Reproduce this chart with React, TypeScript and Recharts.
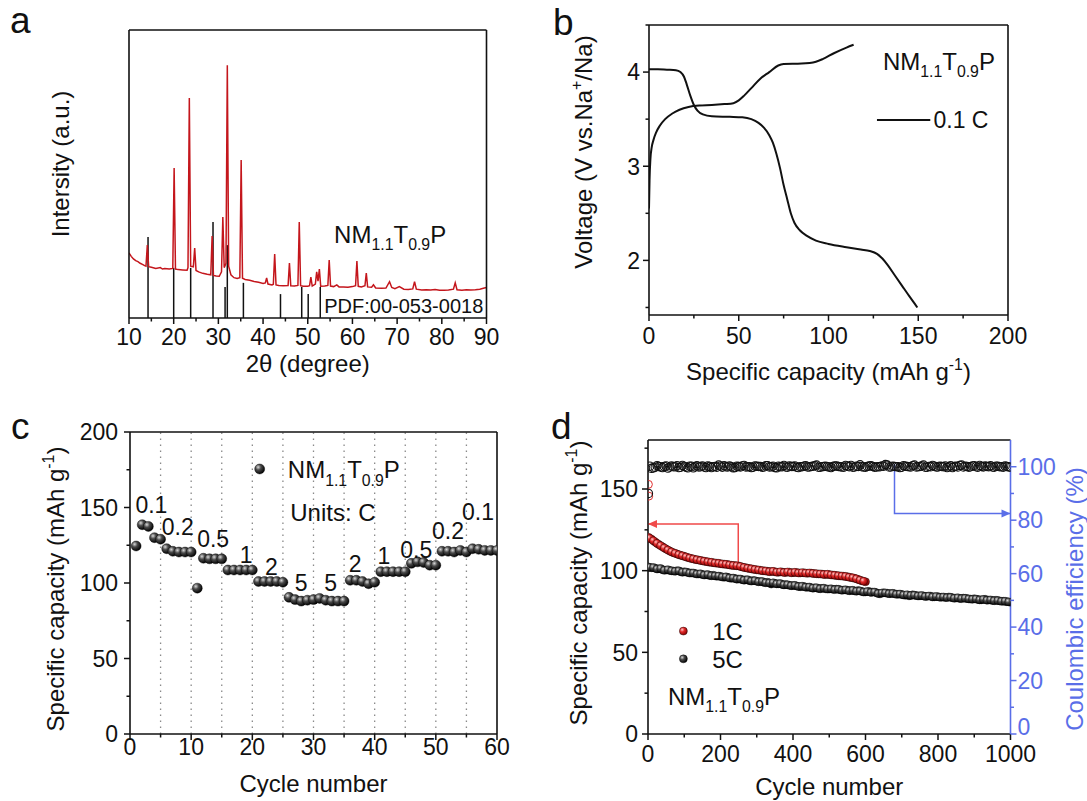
import React from 'react'
import { ComposedChart, Line, Scatter, XAxis, YAxis, ReferenceLine } from 'recharts'

const FONT = '"Liberation Sans", Arial, Helvetica, sans-serif'
const INK = '#111111'
const XRD_RED = '#c4161c'
const BLUE = '#5a6ee8'
const ARROW_RED = '#f04a4a'
const TICK_FS = 23
const TITLE_FS = 24

// (a) XRD pattern, 2theta (deg) and intensity (a.u., 0..1000 of plot height)
const xrdTheta = [
  10.0, 10.5, 11.0, 11.5, 12.0, 12.5, 13.0, 13.5, 13.8, 14.1,
  14.4, 15.0, 16.0, 17.0, 17.5, 18.0, 19.0, 19.8, 20.1, 20.4,
  21.0, 22.0, 23.0, 23.2, 23.5, 23.8, 24.4, 24.7, 25.0, 25.6,
  26.5, 27.5, 28.3, 28.6, 28.9, 29.5, 30.2, 30.7, 31.0, 31.3,
  31.7, 32.0, 32.3, 32.8, 33.5, 34.2, 34.8, 35.1, 35.4, 36.0,
  37.0, 38.0, 39.0, 40.0, 40.5, 40.8, 41.1, 42.0, 42.3, 42.6,
  42.9, 43.5, 44.5, 45.6, 45.9, 46.2, 47.0, 47.8, 48.1, 48.4,
  49.0, 50.0, 50.4, 50.7, 51.0, 51.7, 52.0, 52.3, 52.6, 52.9,
  53.8, 54.5, 54.8, 55.1, 55.8, 56.5, 57.0, 58.0, 59.0, 60.0,
  60.7, 61.0, 61.3, 62.0, 62.8, 63.1, 63.4, 64.3, 64.7, 65.2,
  66.5, 67.5, 68.3, 68.8, 69.5, 70.5, 71.5, 72.5, 73.5, 73.9,
  74.3, 75.5, 76.5, 77.5, 78.5, 79.5, 80.5, 81.5, 82.6, 83.0,
  83.4, 84.5, 85.5, 86.5, 87.5, 88.5, 89.5, 90.0,
]
const xrdIntensity = [
  226, 214, 205, 199, 196, 190, 186, 182, 180, 253,
  178, 176, 172, 175, 170, 172, 170, 172, 521, 170,
  168, 167, 166, 175, 764, 180, 178, 243, 165, 160,
  155, 152, 150, 285, 148, 146, 145, 160, 351, 175,
  190, 878, 180, 150, 140, 137, 140, 549, 138, 134,
  131, 127, 124, 120, 122, 139, 118, 115, 117, 222,
  115, 113, 112, 113, 191, 112, 111, 113, 333, 112,
  110, 110, 112, 142, 111, 118, 160, 128, 170, 110,
  111, 113, 201, 111, 109, 115, 108, 108, 107, 109,
  112, 198, 110, 108, 112, 156, 108, 107, 115, 104,
  103, 104, 126, 106, 102, 109, 100, 99, 101, 126,
  100, 97, 98, 97, 99, 96, 96, 97, 100, 122,
  98, 96, 98, 97, 98, 100, 104, 106,
]
const pdfTheta = [14.26, 20.0, 23.8, 28.8, 31.5, 32.0, 35.6, 43.9, 48.65, 50.1, 52.8]
const pdfIntensity = [281, 174, 174, 333, 108, 253, 122, 83, 108, 83, 108]
const xrdTicks = [10, 15, 20, 25, 30, 35, 40, 45, 50, 55, 60, 65, 70, 75, 80, 85, 90]
const xrdMajor = [10, 20, 30, 40, 50, 60, 70, 80, 90]

// (b) first charge / discharge at 0.1 C
const chargeCap = [0, 0.3, 0.8, 1.5, 2.5, 4, 6, 9, 13, 17, 22, 28, 35, 42, 47, 50, 53, 57, 62, 67, 72, 75, 85, 93, 97, 103, 110, 114]
const chargeVolt = [2.55, 2.85, 3.08, 3.2, 3.28, 3.36, 3.43, 3.5, 3.56, 3.6, 3.63, 3.645, 3.65, 3.66, 3.67, 3.7, 3.75, 3.83, 3.93, 4.0, 4.07, 4.085, 4.09, 4.11, 4.14, 4.2, 4.26, 4.29]
const dischargeCap = [0, 5, 10, 15, 17.5, 19.5, 21, 23, 25, 27, 30, 35, 45, 52, 57, 61, 64, 67, 69, 71, 73, 75, 77, 79, 81, 84, 88, 93, 100, 110, 118, 123, 127, 130, 133, 137, 141, 145, 148, 149.5]
const dischargeVolt = [4.03, 4.03, 4.025, 4.02, 4.0, 3.95, 3.87, 3.75, 3.65, 3.59, 3.55, 3.53, 3.525, 3.52, 3.5, 3.46, 3.41, 3.33, 3.25, 3.13, 2.98, 2.8, 2.65, 2.5, 2.4, 2.32, 2.26, 2.21, 2.175, 2.14, 2.115, 2.1, 2.07, 2.02, 1.95, 1.84, 1.73, 1.62, 1.54, 1.5]
const capTicks = [0, 25, 50, 75, 100, 125, 150, 175, 200]
const capMajor = [0, 50, 100, 150, 200]
const voltTicks = [1.5, 2, 2.5, 3, 3.5, 4, 4.5]
const voltMajor = [2, 3, 4]

// (c) rate capability, cycles 1..60
const rateCapacity = [
  124.5, 138.6, 137.5, 130, 129, 122.7, 121, 120.5, 120.5, 120.5,
  96.6, 116.4, 116, 116, 116, 108.6, 108.6, 108.6, 108.6, 108.6,
  101, 101, 101, 101, 100.5, 90.5, 89, 88, 88.6, 89,
  89.8, 88.6, 88, 88, 88, 101.8, 101.8, 101, 99.5, 100.5,
  107.5, 107.5, 107.5, 107.5, 107.5, 113, 114, 113.6, 111.8, 111.8,
  121, 121, 120.5, 121.6, 120.5, 122.7, 122.3, 121.6, 121.6, 121.6,
]
const rateLabels = ['0.1', '0.2', '0.5', '1', '2', '5', '5', '2', '1', '0.5', '0.2', '0.1']
const rateLabelCycle = [3.5, 7.8, 13.6, 19, 23.1, 28, 32.8, 36.8, 41.5, 46.8, 52, 56.9]
const rateLabelCap = [152, 137.5, 129.5, 119, 111, 100, 100, 112.5, 118, 122, 134.5, 147]
const rateDividers = [5, 10, 15, 20, 25, 30, 35, 40, 45, 50, 55]
const cycTicks = [0, 5, 10, 15, 20, 25, 30, 35, 40, 45, 50, 55, 60]
const cycMajor = [0, 10, 20, 30, 40, 50, 60]
const rcapTicks = [0, 25, 50, 75, 100, 125, 150, 175, 200]
const rcapMajor = [0, 50, 100, 150, 200]

// (d) long cycling, sampled at cycle 1, 10, 20, ... and at 5, 15, 25, ...
const cap5C = [
  102.3,
  101.8, 101.5, 101.2, 100.6, 100.4, 100.1, 99.8, 100.0, 99.4, 99.3,
  98.9, 98.6, 98.2, 98.0, 97.6, 97.5, 97.0, 97.2, 96.6, 96.5,
  96.0, 95.9, 95.3, 95.2, 94.9, 94.5, 94.4, 93.9, 94.0, 93.5,
  93.3, 92.8, 92.9, 91.8, 92.3, 92.0, 91.6, 91.5, 91.0, 90.9,
  90.6, 90.2, 90.3, 89.8, 89.6, 89.5, 89.1, 89.2, 88.9, 88.8,
  88.6, 88.7, 88.3, 88.2, 88.0, 87.9, 87.6, 87.8, 87.2, 87.0,
  87.3, 86.9, 86.5, 85.8, 86.5, 86.2, 86.0, 85.9, 85.6, 85.4,
  85.0, 84.6, 85.2, 84.8, 84.6, 84.5, 84.3, 84.4, 84.0, 84.1,
  83.8, 83.6, 83.9, 83.4, 83.3, 83.0, 83.2, 82.9, 82.6, 82.8,
  82.4, 82.2, 82.5, 82.0, 81.8, 81.9, 81.5, 81.3, 81.0, 80.7,
]
const cap5CMid = [
  102.0, 101.9, 101.0, 101.3, 100.2, 100.6, 99.9, 99.6, 99.9, 99.0,
  99.2, 98.5, 98.6, 97.9, 98.1, 97.3, 97.6, 96.9, 96.8, 96.7,
  96.1, 96.2, 95.5, 95.5, 94.8, 94.9, 94.2, 94.5, 93.6, 93.9,
  93.2, 93.4, 92.6, 92.5, 92.6, 91.9, 92.1, 91.3, 91.4, 90.8,
  91.0, 90.3, 90.5, 89.9, 90.0, 89.3, 89.6, 88.9, 89.3, 88.7,
  88.9, 88.4, 88.6, 88.0, 88.3, 87.7, 88.0, 87.4, 87.6, 86.9,
  87.2, 86.7, 86.9, 86.0, 86.3, 86.4, 85.9, 86.1, 85.5, 85.7,
  85.1, 85.3, 84.8, 85.0, 84.5, 84.8, 84.2, 84.5, 83.9, 84.2,
  83.7, 83.9, 83.5, 83.7, 83.1, 83.4, 82.9, 83.1, 82.7, 82.5,
  82.6, 82.1, 82.4, 81.9, 82.1, 81.6, 81.7, 81.2, 81.3, 80.9,
]
const cap1C = [
  120.5,
  119.2, 117.5, 116.0, 114.6, 113.2, 112.0, 111.0, 110.2, 109.4, 108.8,
  108.0, 107.4, 106.9, 106.5, 106.0, 105.6, 105.2, 104.9, 104.6, 104.3,
  104.0, 103.7, 103.3, 103.1, 102.9, 102.2, 101.8, 101.3, 100.9, 100.5,
  100.2, 99.9, 99.6, 99.5, 99.3, 99.0, 99.2, 98.9, 99.1, 98.8,
  98.9, 98.6, 98.7, 98.4, 98.5, 98.2, 98.0, 97.9, 97.6, 97.6,
  97.3, 97.0, 96.8, 96.6, 96.3, 95.8, 95.3, 94.6, 93.8, 93.2,
]
const cap1CMid = [
  119.8, 118.3, 116.7, 115.3, 113.9, 112.6, 111.5, 110.6, 109.8, 109.1,
  108.4, 107.7, 107.2, 106.7, 106.2, 105.8, 105.4, 105.1, 104.7, 104.5,
  104.1, 103.9, 103.5, 103.2, 103.0, 102.6, 102.0, 101.5, 101.1, 100.7,
  100.4, 100.0, 99.8, 99.4, 99.6, 99.1, 99.3, 98.9, 99.2, 98.7,
  99.0, 98.6, 98.8, 98.5, 98.6, 98.3, 98.1, 98.0, 97.7, 97.8,
  97.4, 97.2, 96.9, 96.7, 96.5, 96.0, 95.6, 95.0, 94.2, 93.5,
]
const ce5C = [
  90.0,
  99.4, 99.8, 100.1, 99.7, 100.3, 99.9, 100.0, 100.4, 99.8, 100.1,
  99.6, 100.2, 100.0, 99.9, 100.3, 99.7, 100.1, 100.0, 99.8, 100.2,
  100.4, 99.9, 100.0, 99.7, 100.1, 100.3, 99.9, 100.0, 99.8, 100.2,
  100.1, 99.9, 100.4, 100.0, 99.7, 100.2, 100.0, 99.9, 100.3, 100.1,
  99.8, 100.0, 100.2, 99.9, 100.1, 100.4, 99.8, 100.0, 100.2, 99.9,
  100.1, 100.3, 100.0, 99.8, 100.2, 100.5, 99.9, 100.1, 100.0, 99.8,
  100.3, 100.1, 99.9, 100.0, 100.2, 100.6, 99.9, 100.1, 100.0, 99.8,
  100.2, 100.0, 100.4, 99.9, 100.1, 100.6, 99.8, 100.0, 100.2, 99.9,
  100.1, 100.3, 100.0, 99.7, 100.2, 100.5, 99.9, 100.1, 100.0, 100.4,
  99.8, 100.1, 100.3, 100.0, 99.9, 100.2, 100.0, 99.8, 100.1, 99.9,
]
const ce5CMid = [
  100.2, 99.6, 100.4, 99.9, 100.1, 99.5, 100.3, 100.0, 99.7, 100.5,
  99.8, 100.2, 99.6, 100.4, 100.0, 99.9, 100.3, 99.7, 100.1, 100.6,
  99.8, 100.0, 100.3, 99.6, 100.2, 99.9, 100.5, 100.0, 99.7, 100.3,
  100.1, 99.8, 100.4, 99.9, 100.2, 99.6, 100.0, 100.5, 99.8, 100.1,
  100.3, 99.7, 100.0, 100.4, 99.9, 100.2, 100.6, 99.8, 100.1, 100.0,
  99.7, 100.3, 100.1, 99.9, 100.5, 100.0, 99.8, 100.2, 100.7, 99.9,
  100.1, 100.4, 99.8, 100.0, 100.3, 100.8, 99.9, 100.2, 100.0, 99.7,
  100.4, 100.1, 99.9, 100.6, 100.0, 100.3, 99.8, 100.1, 100.5, 99.9,
  100.2, 100.0, 99.7, 100.4, 100.1, 99.9, 100.6, 100.2, 99.8, 100.3,
  100.0, 100.5, 99.9, 100.1, 100.4, 99.8, 100.2, 100.0, 100.3, 99.9,
]
const ce1CCycle = [1, 2]
const ce1C = [93.4, 89.0]
const longTicks = [0, 100, 200, 300, 400, 500, 600, 700, 800, 900, 1000]
const longMajor = [0, 200, 400, 600, 800, 1000]
const lcapTicks = [0, 25, 50, 75, 100, 125, 150, 175]
const lcapMajor = [0, 50, 100, 150]
const ceTicks = [0, 10, 20, 30, 40, 50, 60, 70, 80, 90, 100]
const ceMajor = [0, 20, 40, 60, 80, 100]

type Part = { t: string; sub?: boolean; sup?: boolean }
const NM: Part[] = [{ t: 'NM' }, { t: '1.1', sub: true }, { t: 'T' }, { t: '0.9', sub: true }, { t: 'P' }]

function Rich({ parts, x, y, fs, anchor = 'start', rotate = false, fill = INK }: {
  parts: Part[]; x: number; y: number; fs: number; anchor?: 'start' | 'middle' | 'end'; rotate?: boolean; fill?: string
}) {
  let shift = 0
  const spans = parts.map((p, i) => {
    const want = p.sub ? 0.3 * fs : p.sup ? -0.42 * fs : 0
    const dy = want - shift
    shift = want
    return (
      <tspan key={i} dy={dy} fontSize={p.sub || p.sup ? fs * 0.66 : fs}>{p.t}</tspan>
    )
  })
  return (
    <text x={x} y={y} textAnchor={anchor} fontFamily={FONT} fontSize={fs} fill={fill}
      transform={rotate ? `rotate(-90 ${x} ${y})` : undefined}>
      {spans}
    </text>
  )
}

type Side = 'bottom' | 'left' | 'right'
// lift: pixels to raise the label of the lowest tick (keeps it clear of the x labels below)
function makeTick(side: Side, majors: number[], gap: number, color = INK, lift = 0) {
  return (p: any) => {
    const v = Number(p.payload?.value)
    const major = majors.some(m => Math.abs(m - v) < 1e-9)
    const len = major ? 6 : 3.5
    const { x, y } = p
    if (side === 'bottom') {
      return (
        <g>
          <line x1={x} y1={y} x2={x} y2={y + len} stroke={color} strokeWidth={1.5} />
          {major && (
            <text x={x} y={y + gap} textAnchor="middle" fontFamily={FONT} fontSize={TICK_FS} fill={color}>{v}</text>
          )}
        </g>
      )
    }
    const dir = side === 'left' ? -1 : 1
    const dy = v === 0 ? -lift : 0
    return (
      <g>
        <line x1={x} y1={y} x2={x + dir * len} y2={y} stroke={color} strokeWidth={1.5} />
        {major && (
          <text x={x + dir * gap} y={y + 8.3 + dy} textAnchor={side === 'left' ? 'end' : 'start'}
            fontFamily={FONT} fontSize={TICK_FS} fill={color}>{v}</text>
        )}
      </g>
    )
  }
}

const textShape = (fs: number, anchor: 'start' | 'middle', fill = INK) => (p: any) =>
  <Rich parts={p.payload.parts} x={p.cx} y={p.cy + 0.36 * fs} fs={fs} anchor={anchor} fill={fill} />

const ball = (id: string, r: number) => (p: any) =>
  <circle cx={p.cx} cy={p.cy} r={r} fill={`url(#${id})`} stroke="#000" strokeWidth={0.4} />

const ring = (color: string, r: number, w = 1) => (p: any) =>
  <circle cx={p.cx} cy={p.cy} r={r} fill="none" stroke={color} strokeWidth={w} />

const arrowHead = (dir: 'left' | 'right', color: string, last: number) => (p: any) => {
  if (p.index !== last) return <g key={p.index} />
  const s = dir === 'left' ? 1 : -1
  return (
    <path key={p.index} d={`M${p.cx},${p.cy} L${p.cx + s * 9},${p.cy - 4} L${p.cx + s * 9},${p.cy + 4} Z`} fill={color} />
  )
}

const frame = { stroke: INK, strokeWidth: 1.6 }
type Geo = { x: number; y: number; w: number; h: number; l: number; r: number; t: number; b: number }
const GA: Geo = { x: 0, y: 0, w: 540, h: 400, l: 129, r: 486.5, t: 30, b: 318 }
const GB: Geo = { x: 543, y: 0, w: 544, h: 400, l: 649, r: 1008, t: 25, b: 315 }
const GC: Geo = { x: 0, y: 400, w: 540, h: 401, l: 130, r: 497, t: 432, b: 734 }
const GD: Geo = { x: 543, y: 400, w: 544, h: 401, l: 648, r: 1010.5, t: 440, b: 734 }

const xTitle = (g: Geo, parts: Part[], baseY: number) => () =>
  <Rich parts={parts} x={(g.l + g.r) / 2 - g.x} y={baseY - g.y} fs={TITLE_FS} anchor="middle" />
const yTitle = (g: Geo, parts: Part[], centerX: number, centerY: number, fill = INK) => () =>
  <Rich parts={parts} x={centerX + 0.36 * TITLE_FS - g.x} y={centerY - g.y} fs={TITLE_FS} anchor="middle" rotate fill={fill} />

function Frame(g: Geo) {
  return [
    <XAxis key="ft" xAxisId="top" orientation="top" type="number" domain={[0, 1]} height={g.t - g.y} tick={false} tickLine={false} axisLine={frame} />,
  ]
}

function PanelA() {
  const g = GA
  const xrd = xrdTheta.map((t, i) => ({ x: t, y: xrdIntensity[i] }))
  const notes = [{ x: 55.9, y: 290, parts: NM }]
  const pdf = [{ x: 53.7, y: 42, parts: [{ t: 'PDF:00-053-0018' }] }]
  return (
    <ComposedChart width={g.w} height={g.h} margin={{ top: 0, right: 0, bottom: 0, left: 0 }}>
      {Frame(g)}
      <XAxis dataKey="x" type="number" domain={[10, 90]} ticks={xrdTicks} interval={0} allowDataOverflow
        height={g.y + g.h - g.b} tickSize={0} tickMargin={0} tickLine={false} axisLine={frame}
        tick={makeTick('bottom', xrdMajor, 27)} label={xTitle(g, [{ t: '2θ (degree)' }], 372)} />
      <YAxis type="number" domain={[0, 1000]} allowDataOverflow width={g.l - g.x} tick={false} tickLine={false}
        axisLine={frame} label={yTitle(g, [{ t: 'Intersity (a.u.)' }], 60, 164)} />
      <YAxis yAxisId="r" orientation="right" type="number" domain={[0, 1]} width={g.x + g.w - g.r} tick={false} tickLine={false} axisLine={frame} />
      {pdfTheta.map((t, i) => (
        <ReferenceLine key={i} segment={[{ x: t, y: 0 }, { x: t, y: pdfIntensity[i] }]} stroke={INK} strokeWidth={1.5} />
      ))}
      <Line data={xrd} dataKey="y" type="linear" stroke={XRD_RED} strokeWidth={1.5} dot={false} isAnimationActive={false} />
      <Scatter data={notes} dataKey="y" shape={textShape(24, 'start')} isAnimationActive={false} />
      <Scatter data={pdf} dataKey="y" shape={textShape(20, 'start')} isAnimationActive={false} />
    </ComposedChart>
  )
}

function PanelB() {
  const g = GB
  const charge = chargeCap.map((c, i) => ({ x: c, y: chargeVolt[i] }))
  const discharge = dischargeCap.map((c, i) => ({ x: c, y: dischargeVolt[i] }))
  const legendLine = [{ x: 127, y: 3.49 }, { x: 156.7, y: 3.49 }]
  return (
    <ComposedChart width={g.w} height={g.h} margin={{ top: 0, right: 0, bottom: 0, left: 0 }}>
      {Frame(g)}
      <XAxis dataKey="x" type="number" domain={[0, 200]} ticks={capTicks} interval={0} allowDataOverflow
        height={g.y + g.h - g.b} tickSize={0} tickMargin={0} tickLine={false} axisLine={frame}
        tick={makeTick('bottom', capMajor, 29)}
        label={xTitle(g, [{ t: 'Specific capacity (mAh g' }, { t: '-1', sup: true }, { t: ')' }], 380)} />
      <YAxis type="number" domain={[1.42, 4.5]} ticks={voltTicks} interval={0} allowDataOverflow width={g.l - g.x}
        tickSize={0} tickMargin={0} tickLine={false} axisLine={frame} tick={makeTick('left', voltMajor, 9)}
        label={yTitle(g, [{ t: 'Voltage (V vs.Na' }, { t: '+', sup: true }, { t: '/Na)' }], 583, 152)} />
      <YAxis yAxisId="r" orientation="right" type="number" domain={[0, 1]} width={g.x + g.w - g.r} tick={false} tickLine={false} axisLine={frame} />
      <Line data={charge} dataKey="y" type="monotone" stroke={INK} strokeWidth={2} dot={false} isAnimationActive={false} />
      <Line data={discharge} dataKey="y" type="monotone" stroke={INK} strokeWidth={2} dot={false} isAnimationActive={false} />
      <Line data={legendLine} dataKey="y" type="linear" stroke={INK} strokeWidth={2} dot={false} isAnimationActive={false} />
      <Scatter data={[{ x: 130.3, y: 4.114, parts: NM }]} dataKey="y" shape={textShape(24, 'start')} isAnimationActive={false} />
      <Scatter data={[{ x: 158.5, y: 3.49, parts: [{ t: '0.1 C' }] }]} dataKey="y" shape={textShape(23, 'start')} isAnimationActive={false} />
    </ComposedChart>
  )
}

function PanelC() {
  const g = GC
  const pts = rateCapacity.map((v, i) => ({ x: i + 1, y: v }))
  const labels = rateLabels.map((s, i) => ({ x: rateLabelCycle[i], y: rateLabelCap[i], parts: [{ t: s }] }))
  return (
    <ComposedChart width={g.w} height={g.h} margin={{ top: 0, right: 0, bottom: 0, left: 0 }}>
      {Frame(g)}
      <XAxis dataKey="x" type="number" domain={[0, 60]} ticks={cycTicks} interval={0} allowDataOverflow
        height={g.y + g.h - g.b} tickSize={0} tickMargin={0} tickLine={false} axisLine={frame}
        tick={makeTick('bottom', cycMajor, 21)} label={xTitle(g, [{ t: 'Cycle number' }], 792)} />
      <YAxis type="number" domain={[0, 200]} ticks={rcapTicks} interval={0} allowDataOverflow width={g.l - g.x}
        tickSize={0} tickMargin={0} tickLine={false} axisLine={frame} tick={makeTick('left', rcapMajor, 12)}
        label={yTitle(g, [{ t: 'Specific capacity (mAh g' }, { t: '-1', sup: true }, { t: ')' }], 55, 589)} />
      <YAxis yAxisId="r" orientation="right" type="number" domain={[0, 1]} width={g.x + g.w - g.r} tick={false} tickLine={false} axisLine={frame} />
      {rateDividers.map(v => (
        <ReferenceLine key={v} x={v} stroke="#8a8a8a" strokeWidth={1.3} strokeDasharray="1.5 4.5" />
      ))}
      <Scatter data={pts} dataKey="y" shape={ball('ballK', 5)} isAnimationActive={false} />
      <Scatter data={labels} dataKey="y" shape={textShape(23, 'middle')} isAnimationActive={false} />
      <Scatter data={[{ x: 21.2, y: 175.5 }]} dataKey="y" shape={ball('ballK', 5)} isAnimationActive={false} />
      <Scatter data={[{ x: 25.8, y: 175, parts: NM }, { x: 26.2, y: 146.6, parts: [{ t: 'Units: C' }] }]}
        dataKey="y" shape={textShape(24, 'start')} isAnimationActive={false} />
    </ComposedChart>
  )
}

function PanelD() {
  const g = GD
  const cyc = (i: number) => (i === 0 ? 1 : i * 10)
  const mid = (i: number) => i * 10 + 5
  const d5 = [...cap5C.map((v, i) => ({ x: cyc(i), y: v })), ...cap5CMid.map((v, i) => ({ x: mid(i), y: v }))]
  const d1 = [...cap1C.map((v, i) => ({ x: cyc(i), y: v })), ...cap1CMid.map((v, i) => ({ x: mid(i), y: v }))]
  const ce5 = [...ce5C.map((v, i) => ({ x: cyc(i), y: v })), ...ce5CMid.map((v, i) => ({ x: mid(i), y: v }))]
  const ce1 = ce1C.map((v, i) => ({ x: ce1CCycle[i], y: v }))
  const redArrow = [{ x: 249, y: 105 }, { x: 249, y: 128.6 }, { x: 0, y: 128.6 }]
  const blueArrow = [{ x: 680, y: 101 }, { x: 680, y: 82.5 }, { x: 1000, y: 82.5 }]
  return (
    <ComposedChart width={g.w} height={g.h} margin={{ top: 0, right: 0, bottom: 0, left: 0 }}>
      {Frame(g)}
      <XAxis dataKey="x" type="number" domain={[0, 1000]} ticks={longTicks} interval={0} allowDataOverflow
        height={g.y + g.h - g.b} tickSize={0} tickMargin={0} tickLine={false} axisLine={frame}
        tick={makeTick('bottom', longMajor, 28)} label={xTitle(g, [{ t: 'Cycle number' }], 795)} />
      <YAxis type="number" domain={[0, 180]} ticks={lcapTicks} interval={0} allowDataOverflow width={g.l - g.x}
        tickSize={0} tickMargin={0} tickLine={false} axisLine={frame} tick={makeTick('left', lcapMajor, 10)}
        label={yTitle(g, [{ t: 'Specific capacity (mAh g' }, { t: '-1', sup: true }, { t: ')' }], 578, 583)} />
      <YAxis yAxisId="r" orientation="right" type="number" domain={[0, 110]} ticks={ceTicks} interval={0} allowDataOverflow
        width={g.x + g.w - g.r} tickSize={0} tickMargin={0} tickLine={false} axisLine={{ stroke: BLUE, strokeWidth: 1.6 }}
        tick={makeTick('right', ceMajor, 7, BLUE, 7)}
        label={yTitle(g, [{ t: 'Coulombic efficiency (%)' }], 1074, 599, BLUE)} />
      <Scatter data={d5} dataKey="y" shape={ball('ballK', 4)} isAnimationActive={false} />
      <Scatter data={d1} dataKey="y" shape={ball('ballR', 4)} isAnimationActive={false} />
      <Scatter data={ce1} yAxisId="r" dataKey="y" shape={ring('#e03030', 4)} isAnimationActive={false} />
      <Scatter data={ce5} yAxisId="r" dataKey="y" shape={ring('#111', 4.2, 1.1)} isAnimationActive={false} />
      <Line data={redArrow} dataKey="y" type="linear" stroke={ARROW_RED} strokeWidth={1.5}
        dot={arrowHead('left', ARROW_RED, 2)} isAnimationActive={false} />
      <Line data={blueArrow} yAxisId="r" dataKey="y" type="linear" stroke={BLUE} strokeWidth={1.5}
        dot={arrowHead('right', BLUE, 2)} isAnimationActive={false} />
      <Scatter data={[{ x: 97.6, y: 63 }]} dataKey="y" shape={ball('ballR', 4)} isAnimationActive={false} />
      <Scatter data={[{ x: 97.6, y: 46 }]} dataKey="y" shape={ball('ballK', 4)} isAnimationActive={false} />
      <Scatter data={[{ x: 177, y: 62.8, parts: [{ t: '1C' }] }, { x: 177, y: 45.5, parts: [{ t: '5C' }] }, { x: 55, y: 23, parts: NM }]}
        dataKey="y" shape={textShape(24, 'start')} isAnimationActive={false} />
    </ComposedChart>
  )
}

const place = (g: Geo): React.CSSProperties => ({ position: 'absolute', left: g.x, top: g.y, width: g.w, height: g.h })

export default function App() {
  return (
    <div style={{ position: 'absolute', left: 0, top: 0, width: 1087, height: 801, background: '#fff', fontFamily: FONT }}>
      <svg width={0} height={0} style={{ position: 'absolute' }}>
        <defs>
          <radialGradient id="ballK" cx="0.35" cy="0.32" r="0.7">
            <stop offset="0" stopColor="#d8d8d8" />
            <stop offset="0.4" stopColor="#4a4a4a" />
            <stop offset="1" stopColor="#000" />
          </radialGradient>
          <radialGradient id="ballR" cx="0.35" cy="0.32" r="0.7">
            <stop offset="0" stopColor="#ffc8c8" />
            <stop offset="0.4" stopColor="#e22a2a" />
            <stop offset="1" stopColor="#8a0000" />
          </radialGradient>
        </defs>
      </svg>
      <div style={place(GA)}><PanelA /></div>
      <div style={place(GB)}><PanelB /></div>
      <div style={place(GC)}><PanelC /></div>
      <div style={place(GD)}><PanelD /></div>
      <svg width={1087} height={801} style={{ position: 'absolute', left: 0, top: 0, pointerEvents: 'none' }}>
        <g fontFamily={FONT} fontSize={37} fill={INK}>
          <text x={10} y={33}>a</text>
          <text x={553} y={35}>b</text>
          <text x={11} y={439}>c</text>
          <text x={551} y={439}>d</text>
        </g>
      </svg>
    </div>
  )
}
